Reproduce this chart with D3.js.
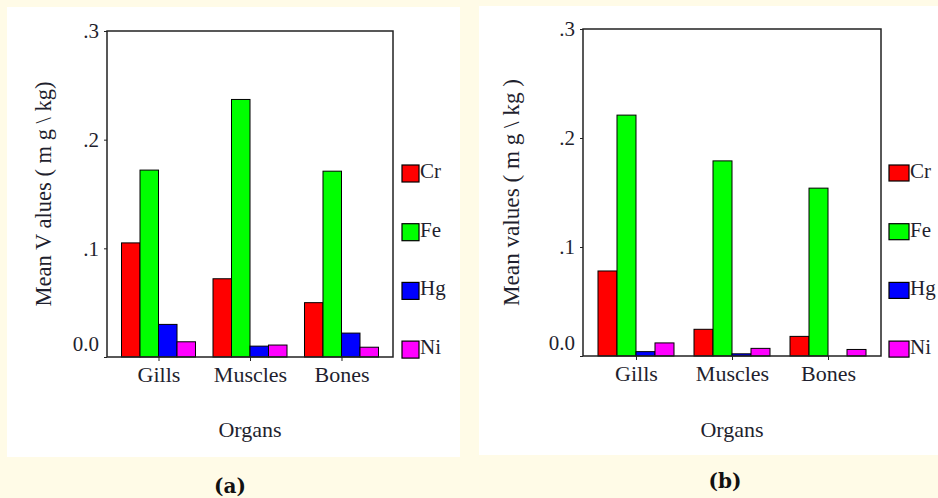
<!DOCTYPE html>
<html lang="en">
<head>
  <meta charset="UTF-8" />
  <title>Mean metal values by organ</title>
  <style>
    body { margin: 0; background: #fffbe7; }
    svg { display: block; }
    text { font-family: "Liberation Serif", "Times New Roman", serif; fill: #1f1f2e; }
    text.caption { font-family: "DejaVu Serif", serif; font-weight: bold; font-size: 20px; fill: #111; }
  </style>
</head>
<body>
  <script src="https://d3js.org/d3.v7.min.js"></script>
  <script>
    // Categories and series
    const organs = ['Gills', 'Muscles', 'Bones'];
    const metals = ['Cr', 'Fe', 'Hg', 'Ni'];
    const metalColors = ['#ff0000', '#00ff00', '#0000ff', '#ff00ff'];

    // Panel (a) values, mg/kg, per organ
    const crA = [0.105, 0.072, 0.050];
    const feA = [0.172, 0.237, 0.171];
    const hgA = [0.030, 0.010, 0.022];
    const niA = [0.014, 0.011, 0.009];

    // Panel (b) values, mg/kg, per organ
    const crB = [0.078, 0.0245, 0.018];
    const feB = [0.221, 0.179, 0.154];
    const hgB = [0.004, 0.002, 0];
    const niB = [0.012, 0.007, 0.006];

    const yTicks = [0, 0.1, 0.2, 0.3];
    const yTickLabels = ['0.0', '.1', '.2', '.3'];

    const svg = d3.select('body').append('svg')
      .attr('width', 938)
      .attr('height', 498);

    svg.append('rect')
      .attr('width', 938).attr('height', 498)
      .attr('fill', '#fffbe7');

    function drawPanel(p) {
      const g = svg.append('g');

      // white card
      g.append('rect')
        .attr('x', p.card[0]).attr('y', p.card[1])
        .attr('width', p.card[2] - p.card[0]).attr('height', p.card[3] - p.card[1])
        .attr('fill', '#ffffff');

      const y = d3.scaleLinear().domain([0, 0.3]).range([p.bottom, p.top]);
      const x0 = d3.scalePoint().domain(organs).range([p.left, p.right]).padding(p.pad);
      const x1 = d3.scaleBand().domain(metals).range([-p.groupW / 2, p.groupW / 2]);

      // bars
      organs.forEach((organ, i) => {
        metals.forEach((m, j) => {
          const v = p.series[j][i];
          if (v <= 0) return;
          g.append('rect')
            .attr('x', x0(organ) + x1(m))
            .attr('y', y(v))
            .attr('width', x1.bandwidth())
            .attr('height', y(0) - y(v))
            .attr('fill', metalColors[j])
            .attr('stroke', '#000')
            .attr('stroke-width', 1);
        });
      });

      // frame
      g.append('rect')
        .attr('x', p.left).attr('y', p.top)
        .attr('width', p.right - p.left).attr('height', p.bottom - p.top)
        .attr('fill', 'none')
        .attr('stroke', '#222')
        .attr('stroke-width', 1.5);

      // y axis
      const ya = g.append('g')
        .attr('transform', 'translate(' + p.left + ',0)')
        .call(d3.axisLeft(y).tickValues(yTicks)
          .tickFormat((d, i) => yTickLabels[i])
          .tickSize(3).tickPadding(5));
      ya.select('.domain').remove();
      ya.selectAll('line').attr('stroke', '#222');
      ya.selectAll('text')
        .style('font-size', '21px')
        .attr('dy', d => d === 0 ? '-0.3em' : '0.32em');

      // x axis
      const xa = g.append('g')
        .attr('transform', 'translate(0,' + p.bottom + ')')
        .call(d3.axisBottom(x0).tickSize(4).tickPadding(5));
      xa.select('.domain').remove();
      xa.selectAll('line').attr('stroke', '#222');
      xa.selectAll('text')
        .style('font-size', '22px');

      // y title
      g.append('text')
        .attr('transform', 'translate(' + p.yTitleX + ',' + ((p.top + p.bottom) / 2) + ') rotate(-90)')
        .attr('text-anchor', 'middle')
        .style('font-size', '23px')
        .attr('textLength', p.yTitleLen)
        .attr('lengthAdjust', 'spacingAndGlyphs')
        .text(p.yTitle);

      // x title
      g.append('text')
        .attr('x', (p.left + p.right) / 2)
        .attr('y', p.xTitleY)
        .attr('text-anchor', 'middle')
        .style('font-size', '22px')
        .text('Organs');

      // legend
      metals.forEach((m, j) => {
        const ly = p.legendTop + j * 58.7;
        g.append('rect')
          .attr('x', p.legendX).attr('y', ly)
          .attr('width', p.swatch[0]).attr('height', p.swatch[1])
          .attr('fill', metalColors[j])
          .attr('stroke', '#000')
          .attr('stroke-width', 1.2);
        g.append('text')
          .attr('x', p.legendX + p.swatch[0] + 1)
          .attr('y', ly + 13)
          .style('font-size', '21px')
          .text(m);
      });

      // panel caption
      g.append('text')
        .attr('class', 'caption')
        .attr('x', p.capX)
        .attr('y', p.capY)
        .attr('text-anchor', 'middle')
        .text(p.caption);
    }

    drawPanel({
      series: [crA, feA, hgA, niA],
      card: [7, 7, 460, 457],
      left: 107, right: 393, top: 31, bottom: 357,
      pad: 0.563, groupW: 74,
      yTitle: 'Mean V alues ( m g \\ kg)', yTitleX: 51, yTitleLen: 225,
      xTitleY: 437,
      legendX: 402, legendTop: 165, swatch: [17, 17],
      caption: '(a)', capX: 230, capY: 493
    });

    drawPanel({
      series: [crB, feB, hgB, niB],
      card: [479, 6, 938, 455],
      left: 583, right: 881, top: 29, bottom: 356,
      pad: 0.552, groupW: 76,
      yTitle: 'Mean values ( m g \\ kg )', yTitleX: 519, yTitleLen: 227,
      xTitleY: 437,
      legendX: 889, legendTop: 165, swatch: [20, 16],
      caption: '(b)', capX: 725, capY: 488
    });
  </script>
</body>
</html>
